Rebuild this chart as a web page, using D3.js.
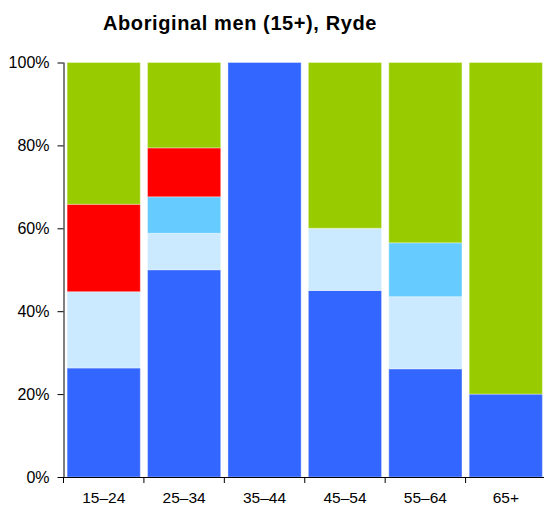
<!DOCTYPE html>
<html>
<head>
<meta charset="utf-8">
<script src="https://cdn.jsdelivr.net/npm/d3@7"></script>
<style>
  body { margin: 0; background: #fff; }
  text { font-family: "Liberation Sans", Arial, sans-serif; }
</style>
</head>
<body>
<div id="chart"></div>
<script>
// Age groups and share (%) of each segment, bottom to top
var categories = ["15–24", "25–34", "35–44", "45–54", "55–64", "65+"];
var seriesNames = ["s1", "s2", "s3", "s4", "s5"];
var s1 = [26.3, 50.0, 100, 45.0, 26.1, 20.0];
var s2 = [18.4, 8.8, 0, 15.0, 17.4, 0];
var s3 = [0, 8.8, 0, 0, 13.0, 0];
var s4 = [21.1, 11.8, 0, 0, 0, 0];
var s5 = [34.2, 20.6, 0, 40.0, 43.5, 80.0];
var yTicks = [0, 20, 40, 60, 80, 100];
var colors = ["#3366ff", "#cceaff", "#66ccff", "#ff0000", "#99cc00"];

var width = 544, height = 506;
var margin = {top: 62.5, right: 0, bottom: 29, left: 63.5};

var svg = d3.select("#chart").append("svg")
    .attr("width", width)
    .attr("height", height);

svg.append("text")
    .attr("x", 240)
    .attr("y", 30)
    .attr("text-anchor", "middle")
    .style("font-size", "20px")
    .style("font-weight", "bold")
    .style("letter-spacing", "0.6px")
    .text("Aboriginal men (15+), Ryde");

var rows = categories.map(function(c, i){
  return {cat: c, s1: s1[i], s2: s2[i], s3: s3[i], s4: s4[i], s5: s5[i]};
});
var stacked = d3.stack().keys(seriesNames)(rows);

var x = d3.scaleBand()
    .domain(categories)
    .range([margin.left, 546])
    .paddingInner(0.09)
    .paddingOuter(0.045);

var y = d3.scaleLinear()
    .domain([0, 100])
    .range([height - margin.bottom, margin.top]);

var g = svg.append("g");

g.selectAll("g.layer")
    .data(stacked)
  .enter().append("g")
    .attr("class", "layer")
    .attr("fill", function(d, i){ return colors[i]; })
  .selectAll("rect")
    .data(function(d){ return d; })
  .enter().append("rect")
    .filter(function(d){ return d[1] - d[0] > 0; })
    .attr("x", function(d){ return x(d.data.cat); })
    .attr("width", x.bandwidth())
    .attr("y", function(d){ return y(d[1]); })
    .attr("height", function(d){ return y(d[0]) - y(d[1]); })
    .attr("stroke", "#ffffff")
    .attr("stroke-opacity", 0.35)
    .attr("stroke-width", 1);

// Y axis
var yAxis = svg.append("g")
    .attr("transform", "translate(" + margin.left + ",0)")
    .call(d3.axisLeft(y).tickValues(yTicks).tickSize(6).tickPadding(8)
      .tickFormat(function(d){ return d + "%"; }));
yAxis.selectAll("text").style("font-size", "16px").attr("fill", "#000");
yAxis.selectAll("line").attr("stroke", "#000");
yAxis.select(".domain").attr("stroke", "#000").attr("d", "M0.5," + y(100) + "V" + y(0));

// X axis
var xAxis = svg.append("g")
    .attr("transform", "translate(0," + (height - margin.bottom) + ")")
    .call(d3.axisBottom(x).tickSize(6).tickPadding(9));
xAxis.selectAll(".tick line")
    .attr("x1", -x.step() / 2).attr("x2", -x.step() / 2)
    .attr("stroke", "#000");
xAxis.selectAll("text").style("font-size", "15.5px").attr("fill", "#000");
xAxis.select(".domain").attr("stroke", "#000")
    .attr("d", "M" + margin.left + ",0.5H" + width);
</script>
</body>
</html>
